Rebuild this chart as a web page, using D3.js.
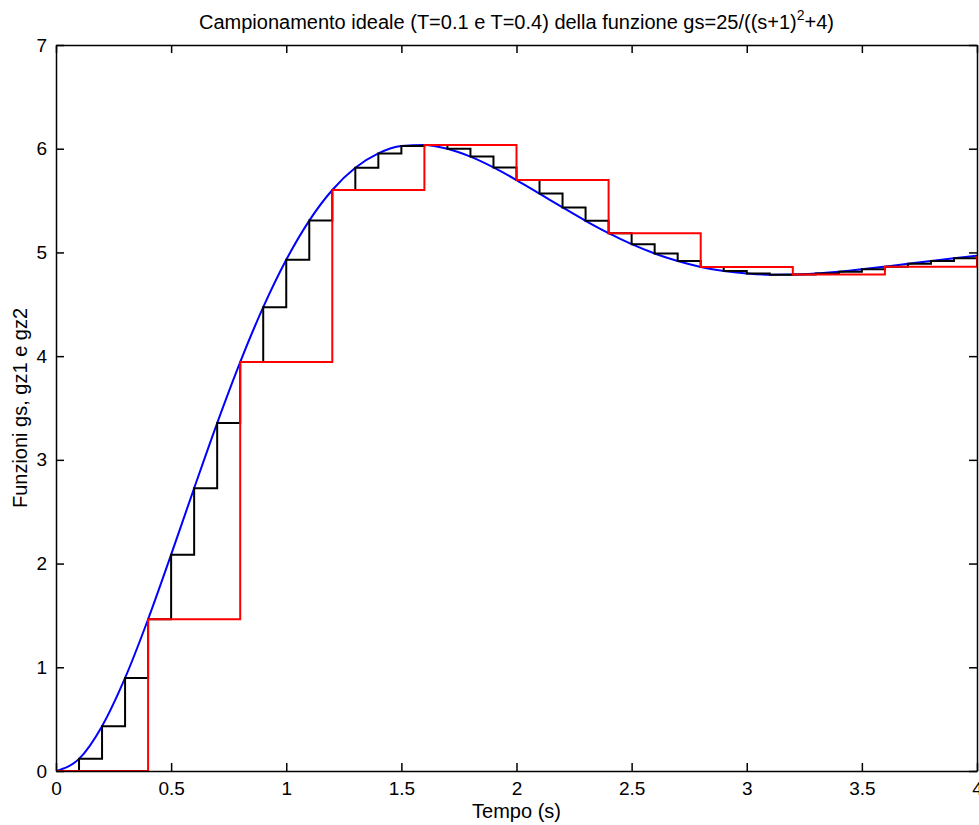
<!DOCTYPE html>
<html>
<head>
<meta charset="utf-8">
<script src="https://cdn.jsdelivr.net/npm/d3@7"></script>
<style>
  body { margin: 0; background: #fff; }
  svg { display: block; font-family: "Liberation Sans", Arial, sans-serif; }
</style>
</head>
<body>
<div id="chart"></div>
<script>
// continuous response gs (at 0.1 s spacing)
const tFine = d3.range(0, 41).map(i => i / 10);
const gs = [0, 0.117, 0.432, 0.897, 1.463, 2.086, 2.727, 3.355, 3.943, 4.472,
    4.929, 5.307, 5.602, 5.816, 5.955, 6.026, 6.037, 6.000, 5.924, 5.820,
    5.698, 5.567, 5.434, 5.305, 5.186, 5.080, 4.990, 4.917, 4.860, 4.820,
    4.796, 4.785, 4.786, 4.796, 4.814, 4.837, 4.863, 4.890, 4.918, 4.944, 4.968];

// sampled T=0.1 (black steps)
const t1 = tFine;
const gz1 = gs.slice();

// sampled T=0.4 (red steps)
const t2 = [0, 0.4, 0.8, 1.2, 1.6, 2.0, 2.4, 2.8, 3.2, 3.6, 4.0];
const gz2 = [0, 1.463, 3.943, 5.602, 6.037, 5.698, 5.186, 4.860, 4.786, 4.863, 4.968];

const xTicks = [0, 0.5, 1, 1.5, 2, 2.5, 3, 3.5, 4];
const yTicks = [0, 1, 2, 3, 4, 5, 6, 7];

const width = 979, height = 825;
const margin = {top: 45, right: 2, bottom: 54, left: 56};

const x = d3.scaleLinear().domain([0, 4]).range([margin.left, width - margin.right]);
const y = d3.scaleLinear().domain([0, 7]).range([height - margin.bottom, margin.top]);

const svg = d3.select('#chart').append('svg')
    .attr('width', width).attr('height', height);

svg.append('clipPath').attr('id', 'clip')
    .append('rect')
    .attr('x', x(0)).attr('y', y(7))
    .attr('width', x(4) - x(0)).attr('height', y(0) - y(7));

const plot = svg.append('g').attr('clip-path', 'url(#clip)');

const smooth = d3.line()
    .x((d, i) => x(tFine[i])).y(d => y(d))
    .curve(d3.curveMonotoneX);

plot.append('path')
    .attr('d', smooth(gs))
    .attr('fill', 'none').attr('stroke', '#0000ff').attr('stroke-width', 2);

const stairs = (ts) => d3.line()
    .x((d, i) => x(ts[i])).y(d => y(d))
    .curve(d3.curveStepAfter);

plot.append('path')
    .attr('d', stairs(t1)(gz1))
    .attr('fill', 'none').attr('stroke', '#000').attr('stroke-width', 2);

plot.append('path')
    .attr('d', stairs(t2)(gz2))
    .attr('fill', 'none').attr('stroke', '#ff0000').attr('stroke-width', 2);

// axes, matlab style: ticks inside on all four sides
const fmt = d => d3.format('')(d);
const tl = 8;

svg.append('g')
    .attr('transform', `translate(0,${y(0)})`)
    .call(d3.axisBottom(x).tickValues(xTicks).tickSizeInner(-tl).tickSizeOuter(0).tickPadding(11).tickFormat(fmt));
svg.append('g')
    .attr('transform', `translate(0,${y(7)})`)
    .call(d3.axisTop(x).tickValues(xTicks).tickSizeInner(-tl).tickSizeOuter(0).tickFormat(''));
svg.append('g')
    .attr('transform', `translate(${x(0)},0)`)
    .call(d3.axisLeft(y).tickValues(yTicks).tickSizeInner(-tl).tickSizeOuter(0).tickPadding(9).tickFormat(fmt));
svg.append('g')
    .attr('transform', `translate(${x(4)},0)`)
    .call(d3.axisRight(y).tickValues(yTicks).tickSizeInner(-tl).tickSizeOuter(0).tickFormat(''));

svg.selectAll('.domain').attr('stroke', '#000').attr('stroke-width', 1.5);
svg.selectAll('.tick line').attr('stroke', '#000').attr('stroke-width', 1.5);
svg.selectAll('.tick text')
    .attr('fill', '#000')
    .style('font-family', '"Liberation Sans", Arial, sans-serif')
    .style('font-size', '19px');

// titles
const title = svg.append('text')
    .attr('x', (x(0) + x(4)) / 2).attr('y', 29)
    .attr('text-anchor', 'middle')
    .style('font-size', '20px');
title.append('tspan').text('Campionamento ideale (T=0.1 e T=0.4) della funzione gs=25/((s+1)');
title.append('tspan').attr('dy', -9).style('font-size', '14px').text('2');
title.append('tspan').attr('dy', 9).text('+4)');

svg.append('text')
    .attr('x', (x(0) + x(4)) / 2).attr('y', 818)
    .attr('text-anchor', 'middle')
    .style('font-size', '20px')
    .text('Tempo (s)');

svg.append('text')
    .attr('transform', `translate(27,${(y(0) + y(7)) / 2}) rotate(-90)`)
    .attr('text-anchor', 'middle')
    .style('font-size', '20px')
    .text('Funzioni gs, gz1 e gz2');
</script>
</body>
</html>
